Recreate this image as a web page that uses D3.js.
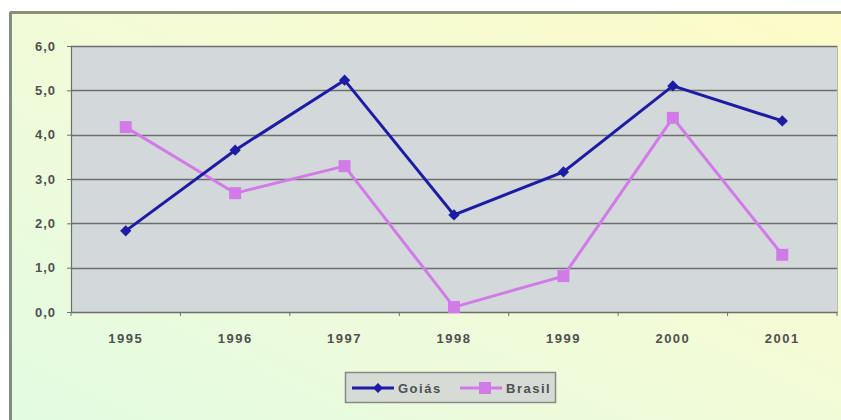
<!DOCTYPE html>
<html><head><meta charset="utf-8">
<script src="https://cdn.jsdelivr.net/npm/d3@7"></script>
<style>body{margin:0;background:#fff}svg{display:block}text{font-family:"Liberation Sans",Arial,sans-serif}</style>
</head><body>
<svg id="c" width="841" height="420"></svg>
<script>
const years = ["1995","1996","1997","1998","1999","2000","2001"];
const goias = [1.83, 3.65, 5.23, 2.19, 3.16, 5.10, 4.31];
const brasil = [4.17, 2.68, 3.29, 0.11, 0.81, 4.38, 1.29];
const yTicks = [0,1,2,3,4,5,6];
const seriesNames = ["Goiás","Brasil"];

(function(){
const svg = d3.select("#c");
const defs = svg.append("defs");
const g1 = defs.append("linearGradient").attr("id","bg").attr("x1","0").attr("y1","1").attr("x2","1").attr("y2","0");
g1.append("stop").attr("offset","0").attr("stop-color","#e2fbe2");
g1.append("stop").attr("offset","0.5").attr("stop-color","#f2fbd8");
g1.append("stop").attr("offset","1").attr("stop-color","#fdfbc8");

const txt = "#505050";
// chart area
svg.append("rect").attr("x",10).attr("y",12).attr("width",840).attr("height",420).attr("fill","url(#bg)");
svg.append("line").attr("x1",10).attr("x2",841).attr("y1",12.5).attr("y2",12.5).attr("stroke","#8a8f78").attr("stroke-width",3);
svg.append("line").attr("x1",10.5).attr("x2",10.5).attr("y1",12).attr("y2",420).attr("stroke","#7f9080").attr("stroke-width",3);

const pl=71, pr=837, pt=46, pb=312;
const x = d3.scaleBand().domain(years).range([pl,pr]);
const y = d3.scaleLinear().domain([0,6]).range([pb,pt]);

svg.append("rect").attr("x",pl).attr("y",pt).attr("width",pr-pl).attr("height",pb-pt).attr("fill","#d3d9da");
svg.append("line").attr("x1",pr+0.5).attr("x2",pr+0.5).attr("y1",pt).attr("y2",pb).attr("stroke","#b8bcb8");

// gridlines
svg.append("g").selectAll("line").data(yTicks.filter(d=>d>0)).join("line")
  .attr("x1",pl).attr("x2",pr).attr("y1",d=>Math.round(y(d))+0.5).attr("y2",d=>Math.round(y(d))+0.5)
  .attr("stroke","#6e6e6e").attr("stroke-width",1.5);

// y axis
const ya = svg.append("g").attr("transform",`translate(${pl},0)`)
  .call(d3.axisLeft(y).tickValues(yTicks).tickSize(4).tickFormat(d=>d3.format(".1f")(d).replace(".",",")));
ya.select(".domain").attr("stroke","#6e6e6e").attr("stroke-width",1.2);
ya.selectAll(".tick line").attr("stroke","#6e6e6e");
ya.selectAll("text").attr("font-size",13).attr("fill",txt).attr("x",-15).attr("letter-spacing",1).attr("font-weight","bold");

// x axis
const xa = svg.append("g").attr("transform",`translate(0,${pb})`)
  .call(d3.axisBottom(x).tickSize(0).tickPadding(22));
xa.select(".domain").attr("stroke","#6e6e6e").attr("stroke-width",1.5);
xa.selectAll("text").attr("font-size",13).attr("fill",txt).attr("letter-spacing",1.5).attr("font-weight","bold");
svg.append("g").selectAll("line").data(years.concat(["end"])).join("line")
  .attr("x1",(d,i)=>pl+i*x.step()).attr("x2",(d,i)=>pl+i*x.step())
  .attr("y1",pb).attr("y2",pb+4).attr("stroke","#6e6e6e");

const cx = d=>x(d)+x.bandwidth()/2;
const line = d3.line().x((d,i)=>cx(years[i])).y(d=>y(d));
const cols = ["#1c1ca4","#d27ae8"];

svg.append("path").datum(brasil).attr("d",line).attr("fill","none").attr("stroke",cols[1]).attr("stroke-width",3);
svg.append("g").selectAll("rect").data(brasil).join("rect")
  .attr("x",(d,i)=>cx(years[i])-6).attr("y",d=>y(d)-6).attr("width",12).attr("height",12).attr("fill",cols[1]);
svg.append("path").datum(goias).attr("d",line).attr("fill","none").attr("stroke",cols[0]).attr("stroke-width",3);
svg.append("g").selectAll("rect").data(goias).join("rect")
  .attr("x",-4).attr("y",-4).attr("width",8).attr("height",8)
  .attr("transform",(d,i)=>`translate(${cx(years[i])},${y(d)}) rotate(45)`).attr("fill",cols[0]);

// legend
const lg = svg.append("g");
lg.append("rect").attr("x",345.5).attr("y",372.5).attr("width",210).attr("height",30).attr("fill","#d6dbd6").attr("stroke","#888").attr("stroke-width",1.5);
const items=[{x:352,c:cols[0],n:seriesNames[0],t:"d"},{x:460,c:cols[1],n:seriesNames[1],t:"s"}];
items.forEach(it=>{
  lg.append("line").attr("x1",it.x).attr("x2",it.x+42).attr("y1",388).attr("y2",388).attr("stroke",it.c).attr("stroke-width",3);
  if(it.t==="d") lg.append("rect").attr("x",-3.5).attr("y",-3.5).attr("width",7).attr("height",7).attr("transform",`translate(${it.x+26},388) rotate(45)`).attr("fill",it.c);
  else lg.append("rect").attr("x",it.x+19).attr("y",382).attr("width",12).attr("height",12).attr("fill",it.c);
  lg.append("text").attr("x",it.x+46).attr("y",393).attr("font-size",13).attr("fill",txt).attr("letter-spacing",1.5).attr("font-weight","bold").text(it.n);
});
})();
</script>
</body></html>
